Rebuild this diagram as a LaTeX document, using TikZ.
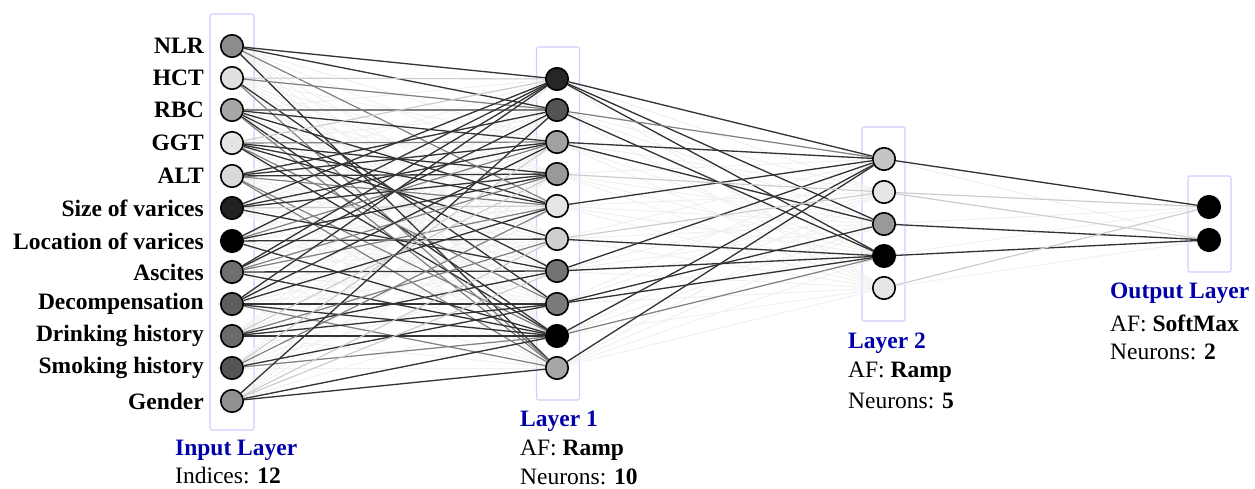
\documentclass[tikz,border=0pt]{standalone}
\usepackage{fontspec}
\setmainfont{Liberation Serif}
\pgfdeclarelayer{bg}
\pgfsetlayers{bg,main}
\definecolor{capblue}{RGB}{0,0,170}
\definecolor{boxc}{RGB}{205,205,255}
\begin{document}
\begin{tikzpicture}[x=1pt,y=-1pt,
  neuron/.style={circle,draw=black,line width=1.6pt,minimum size=22.5pt,inner sep=0pt},
  inlabel/.style={anchor=east,inner sep=0pt,font=\fontsize{23.5}{26}\selectfont\bfseries},
  captext/.style={anchor=west,inner sep=0pt,font=\fontsize{23.5}{28}\selectfont},
  captitle/.style={captext,text=capblue,font=\fontsize{23.5}{28}\selectfont\bfseries},
  layerbox/.style={draw=boxc,line width=1.1pt,rounded corners=2pt},
  ef/.style={draw=black!6,line width=1pt},
  ed/.style={draw=black!80,line width=1.3pt},
  em/.style={draw=black!50,line width=1.2pt},
  el/.style={draw=black!20,line width=1.1pt}]
\useasboundingbox (0,0) rectangle (1255,489);
% input layer
\foreach \n/\y/\f/\t in {1/46/45/NLR,2/78/12/HCT,3/110/35/RBC,4/143/10/GGT,5/176/15/ALT,6/208/87/Size of varices,7/241/100/Location of varices,8/272/57/Ascites,9/304/63/Decompensation,10/336/58/Drinking history,11/368/67/Smoking history,12/401/43/Gender}{
  \node[neuron,fill=black!\f] (i\n) at (232,\y) {};
  \node[inlabel] (t\n) at (204,\y) {\t};
}
% layer 1
\foreach \n/\y/\f in {1/79/85,2/110/67,3/142/37,4/174/40,5/206/10,6/239/19,7/271/55,8/304/52,9/336/100,10/368/35}{
  \node[neuron,fill=black!\f] (h\n) at (557,\y) {};
}
% layer 2
\foreach \n/\y/\f in {1/159/23,2/192/10,3/224/40,4/256/100,5/288/10}{
  \node[neuron,fill=black!\f] (g\n) at (884,\y) {};
}
% output
\foreach \n/\y in {1/207,2/240}{
  \node[neuron,fill=black] (o\n) at (1209,\y) {};
}
\begin{pgfonlayer}{bg}
  \node[layerbox,minimum width=44pt,minimum height=416pt] (bi) at (232,222) {};
  \node[layerbox,minimum width=43pt,minimum height=353pt] (bh) at (558,223.5) {};
  \node[layerbox,minimum width=43pt,minimum height=194pt] (bg2) at (883.5,224) {};
  \node[layerbox,minimum width=43pt,minimum height=96pt] (bo) at (1209.5,224) {};
  \foreach \a in {1,...,12}{\foreach \b in {1,...,10}{\draw[ef] (i\a) -- (h\b);}}
  \foreach \a in {1,...,10}{\foreach \b in {1,...,5}{\draw[ef] (h\a) -- (g\b);}}
  \foreach \a in {1,...,5}{\foreach \b in {1,2}{\draw[ef] (g\a) -- (o\b);}}
  \foreach \a/\b/\c in {1/1/d,1/2/d,1/5/m,1/10/d,
    2/1/l,2/2/m,2/8/d,2/10/m,
    3/2/m,3/3/d,3/5/d,3/7/d,3/9/d,3/10/m,
    4/1/l,4/3/m,4/4/d,4/5/d,4/6/d,4/8/m,4/9/d,
    5/2/d,5/3/d,5/4/d,5/5/m,5/9/m,5/10/m,
    6/1/d,6/3/d,6/4/d,6/5/l,6/7/d,
    7/1/d,7/3/m,7/4/d,7/6/d,7/9/d,
    8/1/d,8/2/d,8/4/m,8/5/m,8/7/d,8/9/d,
    9/1/d,9/3/d,9/5/d,9/8/d,9/9/d,9/10/m,
    10/4/l,10/6/m,10/7/d,10/8/d,10/9/d,
    11/3/l,11/5/m,11/8/d,11/9/m,
    12/2/d,12/6/l,12/7/l,12/9/d,12/10/d}{
    \draw[e\c] (i\a) -- (h\b);}
  \foreach \a/\b/\c in {1/1/d,1/3/d,1/4/d,2/1/m,2/4/d,3/1/d,3/3/d,5/1/d,6/4/d,7/1/d,7/4/d,8/3/d,8/4/d,9/1/d,9/4/m,10/1/d,4/2/l,6/2/l}{
    \draw[e\c] (h\a) -- (g\b);}
  \foreach \a/\b/\c in {1/1/d,3/2/d,4/2/d,2/1/l,5/1/l,2/2/l}{
    \draw[e\c] (g\a) -- (o\b);}
\end{pgfonlayer}
% captions
\node[captitle] (c1a) at (175,450) {Input Layer};
\node[captext] (c1b) at (175,476) {Indices: \textbf{12}};
\node[captitle] (c2a) at (520,421) {Layer 1};
\node[captext] (c2b) at (520,450) {AF: \textbf{Ramp}};
\node[captext] (c2c) at (520,477) {Neurons: \textbf{10}};
\node[captitle] (c3a) at (848,343) {Layer 2};
\node[captext] (c3b) at (848,372) {AF: \textbf{Ramp}};
\node[captext] (c3c) at (848,401) {Neurons: \textbf{5}};
\node[captitle] (c4a) at (1110,293) {Output Layer};
\node[captext] (c4b) at (1110,323) {AF: \textbf{SoftMax}};
\node[captext] (c4c) at (1110,352) {Neurons: \textbf{2}};
\end{tikzpicture}
\end{document}
